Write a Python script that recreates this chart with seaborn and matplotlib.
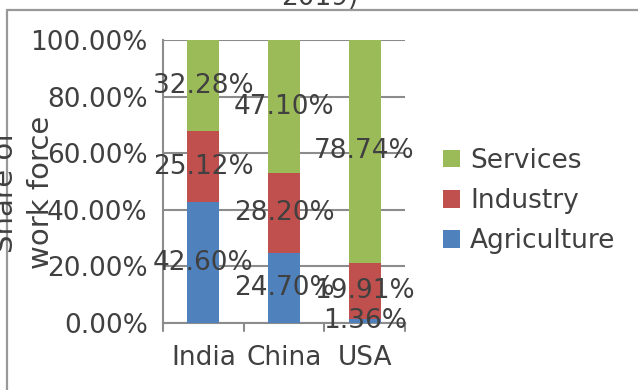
import numpy as np
import pandas as pd
import matplotlib
matplotlib.use("Agg")
import matplotlib.pyplot as plt
import seaborn as sns
from matplotlib.lines import Line2D
from matplotlib.patches import Patch

countries = ["India", "China", "USA"]
sectors = ["Agriculture", "Industry", "Services"]
agriculture = [42.60, 24.70, 1.36]
industry = [25.12, 28.20, 19.91]
services = [32.28, 47.10, 78.74]
colors = {"Agriculture": "#4F81BD", "Industry": "#C0504D", "Services": "#9BBB59"}
yticks = [0, 20, 40, 60, 80, 100]
title_text = "2019)"
ylabel_text = "Share of\nwork force"

sns.set_theme(style="white")
plt.rcParams['font.family'] = ['DejaVu Sans']
txt = "#404040"
grid_c = "#8C8C8C"
FS = 19

df = pd.DataFrame({"Country": countries, "Agriculture": agriculture,
                   "Industry": industry, "Services": services})

fig = plt.figure(figsize=(6.38, 3.9), dpi=100)
ax = fig.add_axes([163/638, 1-323/390, (405-163)/638, (323-40)/390])

bottom = np.zeros(len(countries))
for s in sectors:
    vals = df[s].to_numpy()
    sns.barplot(data=df, x="Country", y=s, bottom=bottom, color=colors[s],
                width=0.4, saturation=1, ax=ax, zorder=3, linewidth=0)
    for i, v in enumerate(vals):
        ax.text(i, bottom[i] + v/2, f"{v:.2f}%", ha="center", va="center",
                fontsize=FS, color=txt, zorder=5)
    bottom = bottom + vals

ax.set_xlim(-0.5, 2.5)
ax.set_ylim(0, 100)
ax.set_yticks(yticks)
ax.set_yticklabels([f"{t:.2f}%" for t in yticks], fontsize=FS, color=txt)
ax.set_xticks(range(len(countries)))
ax.set_xticklabels(countries, fontsize=FS, color=txt)
ax.tick_params(axis="x", length=0, pad=16)
ax.tick_params(axis="y", length=8, width=1.5, color=grid_c, pad=3, direction="out")
ax.set_xlabel("")
ax.set_ylabel("")
ax.yaxis.grid(True, color=grid_c, linewidth=1.5, zorder=0)
ax.set_axisbelow(True)
for sp in ["top", "right"]:
    ax.spines[sp].set_visible(False)
for sp in ["left", "bottom"]:
    ax.spines[sp].set_color(grid_c)
    ax.spines[sp].set_linewidth(1.5)
# category boundary ticks
for xb in [-0.5, 0.5, 1.5, 2.5]:
    ax.plot([xb, xb], [0, -3], color=grid_c, lw=1.5, clip_on=False, zorder=4)

# legend
leg_order = ["Services", "Industry", "Agriculture"]
leg_handles = [Patch(facecolor=colors[s], edgecolor="none") for s in leg_order]
fig.legend(leg_handles, leg_order, loc="center left",
           bbox_to_anchor=(443/638, 1-201/390), frameon=False, fontsize=FS,
           handlelength=0.65, handleheight=0.65, handletextpad=0.38,
           labelspacing=0.54, labelcolor=txt, borderpad=0, borderaxespad=0)

# y label (partially clipped)
fig.text(23/638, 1-192/390, ylabel_text, rotation=90, ha="center", va="center",
         fontsize=21, color=txt, linespacing=1.4)
# title (clipped at top)
fig.text(320/638, 1-5/390, title_text, ha="center", va="baseline", fontsize=FS, color=txt)

# outer chart border
fig.add_artist(Line2D([7/638, 1.0], [1-10/390, 1-10/390], color="#999999", lw=1.6, transform=fig.transFigure))
fig.add_artist(Line2D([7/638, 7/638], [0, 1-10/390], color="#999999", lw=1.6, transform=fig.transFigure))

fig.savefig("out.png", dpi=100)
